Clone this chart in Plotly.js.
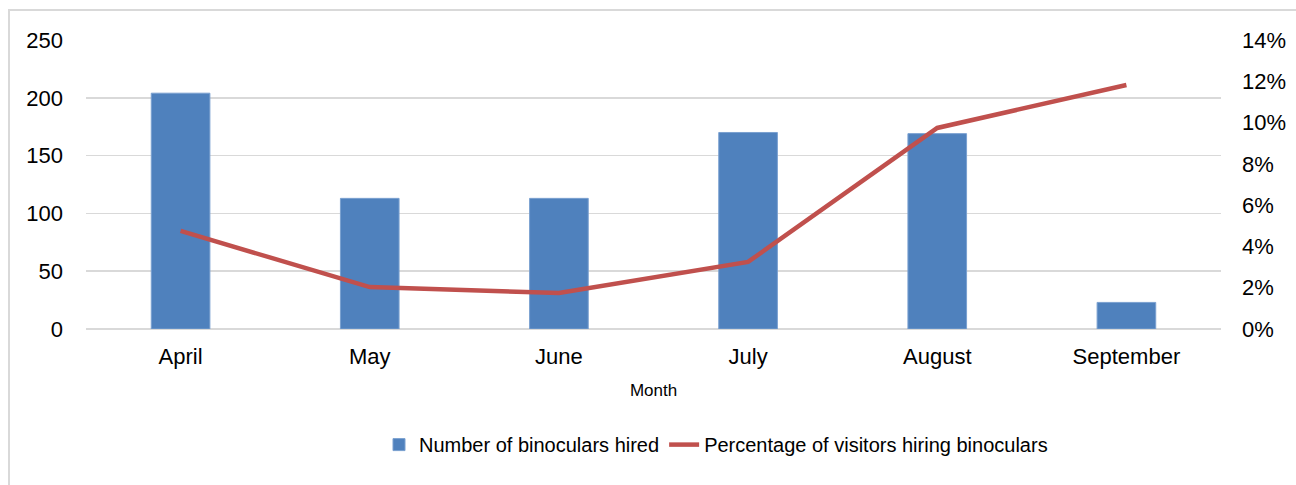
<!DOCTYPE html>
<html>
<head>
<meta charset="utf-8">
<script src="https://cdn.plot.ly/plotly-3.0.1.min.js"></script>
<style>
html,body{margin:0;padding:0;background:#fff;}
#frame{position:absolute;left:8px;top:9px;width:1300px;height:490px;border:2px solid #d9d9d9;box-sizing:border-box;}
#chart{position:absolute;left:0;top:0;width:1296px;height:485px;}
</style>
</head>
<body>
<div id="frame"></div>
<div id="chart"></div>
<script>
const months = ["April","May","June","July","August","September"];
const binocularsHired = [204, 113, 113, 170, 169, 23];
const percentHiring = [0.0475, 0.0203, 0.0174, 0.0325, 0.0974, 0.1182];

const font = "Liberation Sans, Arial, sans-serif";

const traces = [
  {
    type: "bar",
    x: months,
    y: binocularsHired,
    name: "Number of binoculars hired",
    marker: {color: "#4F81BD", line: {color: "#7aa0d0", width: 1}},
    width: 0.31,
    yaxis: "y"
  },
  {
    type: "scatter",
    mode: "lines",
    x: months,
    y: percentHiring,
    name: "Percentage of visitors hiring binoculars",
    line: {color: "#C0504D", width: 4.5},
    yaxis: "y2"
  }
];

const layout = {
  width: 1296,
  height: 485,
  margin: {l: 86, r: 75, t: 40, b: 156},
  paper_bgcolor: "rgba(0,0,0,0)",
  plot_bgcolor: "rgba(0,0,0,0)",
  font: {family: font, color: "#000", size: 22},
  bargap: 0.69,
  xaxis: {
    type: "category",
    tickfont: {size: 22},
    ticks: "",
    ticklabelstandoff: 12,
    showgrid: false,
    showline: false,
    zeroline: false,
    title: {text: "Month", font: {size: 17}, standoff: 16}
  },
  yaxis: {
    range: [0, 250],
    dtick: 50,
    tickfont: {size: 22},
    showgrid: true,
    gridcolor: "#d9d9d9",
    gridwidth: 1.5,
    zeroline: true,
    zerolinecolor: "#d9d9d9",
    zerolinewidth: 2,
    ticks: "",
    ticklabelstandoff: 22,
    showline: false
  },
  yaxis2: {
    overlaying: "y",
    side: "right",
    range: [0, 0.14],
    dtick: 0.02,
    tickformat: ".0%",
    tickfont: {size: 22},
    showgrid: false,
    zeroline: false,
    ticks: "",
    ticklabelstandoff: 20,
    showline: false
  },
  legend: {
    orientation: "h",
    x: (716 - 86) / 1135,
    xanchor: "center",
    y: -0.40,
    yanchor: "middle",
    font: {family: font, size: 20},
    traceorder: "normal"
  },
  showlegend: true
};

Plotly.newPlot("chart", traces, layout, {displayModeBar: false, staticPlot: true});
</script>
</body>
</html>
